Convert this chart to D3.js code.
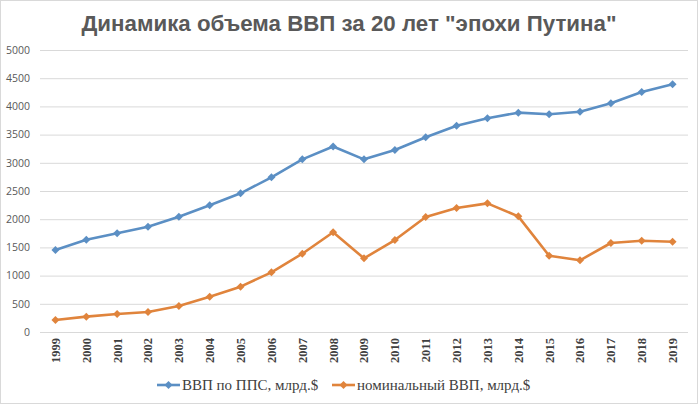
<!DOCTYPE html>
<html><head><meta charset="utf-8">
<script src="https://cdn.jsdelivr.net/npm/d3@7"></script>
<style>body{margin:0;background:#fff}svg{display:block}</style>
</head><body><svg id="c" width="700" height="406"></svg>
<script>
const years = ["1999","2000","2001","2002","2003","2004","2005","2006","2007","2008","2009","2010","2011","2012","2013","2014","2015","2016","2017","2018","2019"];
const pppGdp = [1454,1635,1750,1867,2045,2246,2459,2742,3061,3290,3061,3227,3452,3658,3789,3889,3860,3906,4055,4255,4392];
const nominalGdp = [213,272,319,355,461,626,804,1058,1388,1768,1306,1631,2039,2199,2281,2051,1353,1271,1578,1619,1601];
const yTicks = [0,500,1000,1500,2000,2500,3000,3500,4000,4500,5000];
const seriesNames = ["ВВП по ППС, млрд.$","номинальный ВВП, млрд.$"];
const colors = ["#5b8fc4","#e0843c"];

const svg = d3.select("#c");
svg.append("rect").attr("x",0.5).attr("y",0.5).attr("width",697).attr("height",403)
  .attr("fill","#fff").attr("stroke","#d9d9d9");
const x = d3.scaleBand().domain(years).range([40,688]);
const y = d3.scaleLinear().domain([0,5000]).range([332,50]);

svg.append("text").attr("x",349).attr("y",31).attr("text-anchor","middle")
  .attr("font-family","Liberation Sans, Arial, sans-serif").attr("font-weight","bold")
  .attr("font-size",22.3).attr("fill","#595959")
  .text('Динамика объема ВВП за 20 лет "эпохи Путина"');

const gy = svg.append("g").attr("transform","translate(40,0)")
  .call(d3.axisLeft(y).tickValues(yTicks).tickSize(-648).tickPadding(10).tickFormat(d3.format("d")));
gy.select(".domain").remove();
gy.selectAll("line").attr("stroke","#d9d9d9");
gy.selectAll("text").attr("font-family","Open Sans, Liberation Sans, sans-serif").attr("font-size",10.5).attr("fill","#595959");

const gx = svg.append("g").attr("transform","translate(0,332)")
  .call(d3.axisBottom(x).tickSize(0).tickPadding(0));
gx.select(".domain").remove();
gx.selectAll("text").attr("transform","rotate(-90)").attr("text-anchor","end")
  .attr("x",-6).attr("y",0).attr("dy","0.35em").attr("dx",0)
  .attr("font-family","Liberation Serif, Times New Roman, serif").attr("font-weight","bold")
  .attr("font-size",12.5).attr("fill","#404040");

const line = d3.line().x((d,i)=>x(years[i])+x.bandwidth()/2).y(d=>y(d));
const diamond = "M0,-4L4,0L0,4L-4,0Z";
[pppGdp,nominalGdp].forEach((s,k)=>{
  svg.append("path").datum(s).attr("d",line).attr("fill","none")
    .attr("stroke",colors[k]).attr("stroke-width",2.6).attr("stroke-linejoin","round");
  svg.append("g").selectAll("path").data(s).join("path")
    .attr("transform",(d,i)=>`translate(${x(years[i])+x.bandwidth()/2},${y(d)})`)
    .attr("d",diamond).attr("fill",colors[k]);
});

const legX = [157,332];
seriesNames.forEach((n,k)=>{
  const g = svg.append("g").attr("transform",`translate(${legX[k]},385)`);
  g.append("line").attr("x1",0).attr("x2",23).attr("stroke",colors[k]).attr("stroke-width",2.6);
  g.append("path").attr("transform","translate(11.5,0)").attr("d",diamond).attr("fill",colors[k]);
  g.append("text").attr("x",25).attr("dy","0.35em")
    .attr("font-family","Liberation Serif, Times New Roman, serif").attr("font-size",15)
    .attr("fill","#404040").text(n);
});
</script></body></html>
